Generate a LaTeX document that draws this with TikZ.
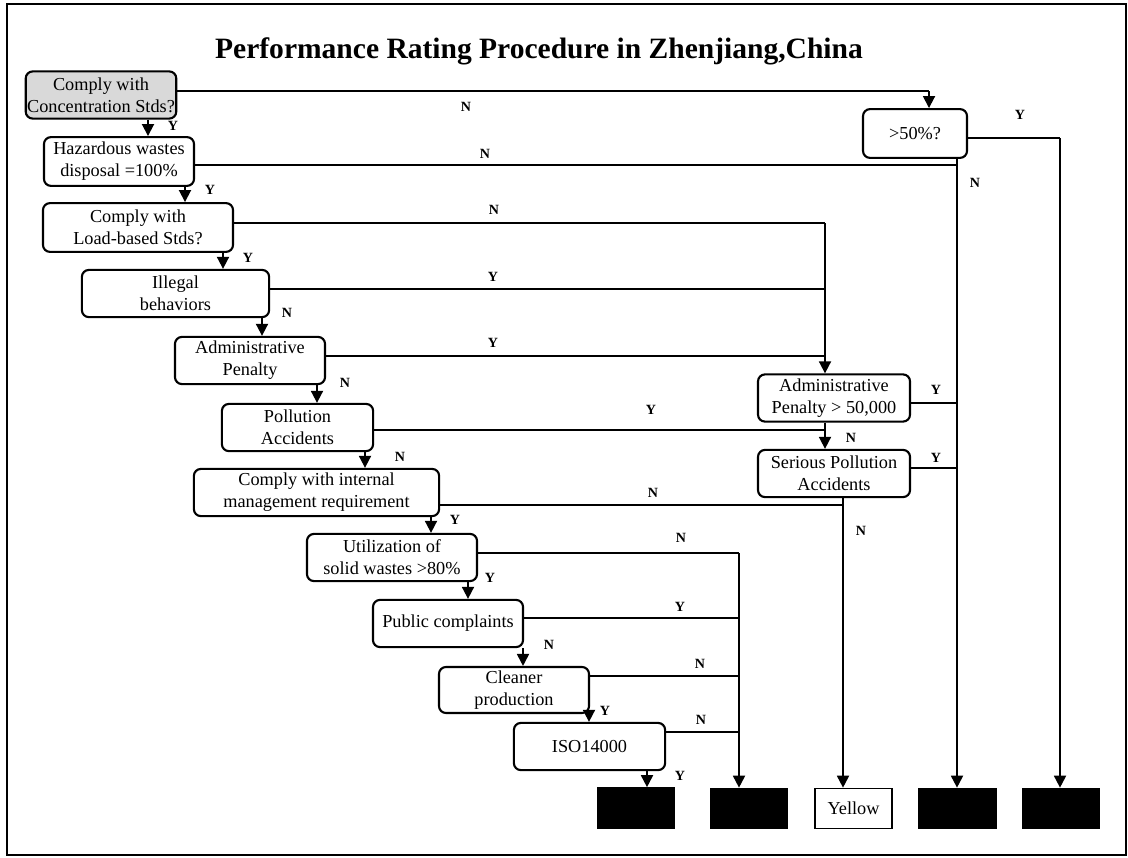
\documentclass[tikz,border=0pt]{standalone}
\usepackage{fontspec}
\setmainfont{Liberation Serif}
\usepackage{tikz}
\usetikzlibrary{arrows.meta}

\begin{document}
\begin{tikzpicture}[x=0.025cm, y=-0.025cm,
    box/.style={draw, line width=1.5pt, rounded corners=5pt, align=center, inner sep=1pt,
        minimum height=1.18cm, font=\fontsize{13}{15.6}\selectfont},
    outbox/.style={draw, line width=1.2pt, minimum width=1.93cm, minimum height=1cm, inner sep=0pt,
        font=\fontsize{13}{15.6}\selectfont},
    lab/.style={font=\bfseries\fontsize{10}{12}\selectfont, inner sep=0pt},
    arr/.style={line width=1.3pt, -{Triangle[length=0.3cm, width=0.3cm]}},
    ln/.style={line width=1.3pt}]
            \useasboundingbox (0,0) rectangle (1128,857);
            \draw[line width=1.3pt] (7,4) rectangle (1126,855);

            % Title
            \node[anchor=base, font=\bfseries\fontsize{21}{25}\selectfont] (title) at (539,58)
                {Performance Rating Procedure in Zhenjiang,China};

            % Nodes
            \node[box, fill=gray!30, minimum width=3.73cm] (conc) at (101,95) {Comply with\\Concentration Stds?};
            \node[box, minimum width=3.75cm, minimum height=1.22cm] (haz) at (119,161.5) {Hazardous wastes\\disposal =100\%};
            \node[box, minimum width=4.75cm, minimum height=1.22cm] (load) at (138,227.5) {Comply with\\Load-based Stds?};
            \node[box, minimum width=4.68cm] (illegal) at (175.5,293.5) {Illegal\\behaviors};
            \node[box, minimum width=3.75cm] (admin) at (250,360.5) {Administrative\\Penalty};
            \node[box, minimum width=3.78cm] (pollu) at (297.5,427.5) {Pollution\\Accidents};
            \node[box, minimum width=6.13cm] (internal) at (316.5,492.5) {Comply with internal\\management requirement};
            \node[box, minimum width=4.25cm] (util) at (392,557.5) {Utilization of\\solid wastes >80\%};
            \node[box, minimum width=3.75cm] (public) at (448,623.5) {Public complaints};
            \node[box, minimum width=3.75cm, minimum height=1.15cm] (cleaner) at (514,690) {Cleaner\\production};
            \node[box, minimum width=3.78cm] (iso) at (589.5,746.5) {ISO14000};
            \node[box, minimum width=2.6cm, minimum height=1.22cm] (fifty) at (915,133.5) {>50\%?};
            \node[box, minimum width=3.8cm] (bigpen) at (834,398) {Administrative\\Penalty > 50,000};
            \node[box, minimum width=3.8cm] (serious) at (834,473.5) {Serious Pollution\\Accidents};

            \node[outbox, fill=black] (out1) at (636,808) {};
            \node[outbox, fill=black] (out2) at (749,808.5) {};
            \node[outbox] (yellow) at (853.5,808.5) {Yellow};
            \node[outbox, fill=black] (out4) at (957.5,808.5) {};
            \node[outbox, fill=black] (out5) at (1061,808.5) {};

            % Junctions
            \coordinate (jfifty) at (929,91);
            \coordinate (jno) at (957,165);
            \coordinate (jyes) at (1060,138);
            \coordinate (jpen) at (825,223);
            \coordinate (jser) at (843,505);
            \coordinate (jgood) at (739,553);

            % Edges down the chain
            \draw[arr] (148,0 |- conc.south) -- (148,0 |- haz.north);
            \draw[arr] (185,0 |- haz.south) -- (185,0 |- load.north);
            \draw[arr] (223,0 |- load.south) -- (223,0 |- illegal.north);
            \draw[arr] (262,0 |- illegal.south) -- (262,0 |- admin.north);
            \draw[arr] (317,0 |- admin.south) -- (317,0 |- pollu.north);
            \draw[arr] (365,0 |- pollu.south) -- (365,0 |- internal.north);
            \draw[arr] (431,0 |- internal.south) -- (431,0 |- util.north);
            \draw[arr] (468,0 |- util.south) -- (468,0 |- public.north);
            \draw[arr] (523,0 |- public.south) -- (523,0 |- cleaner.north);
            \draw[arr] (589,0 |- cleaner.south) -- (589,0 |- iso.north);
            \draw[arr] (647,0 |- iso.south) -- (647,0 |- out1.north);

            % Edges to the right column
            \draw[ln] (conc.east |- jfifty) -- (jfifty);
            \draw[arr] (jfifty) -- (jfifty |- fifty.north);
            \draw[ln] (haz.east |- jno) -- (jno);
            \draw[ln] (fifty.east |- jyes) -- (jyes);
            \draw[arr] (jyes) -- (jyes |- out5.north);
            \draw[arr] (jno |- fifty.south) -- (jno |- out4.north);
            \draw[ln] (load.east |- jpen) -- (jpen);
            \draw[ln] (illegal.east |- 0,289) -- (jpen |- 0,289);
            \draw[ln] (admin.east |- 0,356) -- (jpen |- 0,356);
            \draw[arr] (jpen) -- (jpen |- bigpen.north);
            \draw[ln] (bigpen.east |- 0,403) -- (jno |- 0,403);
            \draw[ln] (pollu.east |- 0,430) -- (jpen |- 0,430);
            \draw[arr] (jpen |- bigpen.south) -- (jpen |- serious.north);
            \draw[ln] (serious.east |- 0,468) -- (jno |- 0,468);
            \draw[ln] (internal.east |- jser) -- (jser);
            \draw[arr] (jser |- serious.south) -- (jser |- yellow.north);
            \draw[ln] (util.east |- jgood) -- (jgood);
            \draw[ln] (public.east |- 0,618) -- (jgood |- 0,618);
            \draw[ln] (cleaner.east |- 0,676) -- (jgood |- 0,676);
            \draw[ln] (iso.east |- 0,732) -- (jgood |- 0,732);
            \draw[arr] (jgood) -- (jgood |- out2.north);

            % Labels
            \node[lab] (l1) at (173,126) {Y};
            \node[lab] (l2) at (210,190) {Y};
            \node[lab] (l3) at (248,258) {Y};
            \node[lab] (l4) at (287,313) {N};
            \node[lab] (l5) at (345,383) {N};
            \node[lab] (l6) at (400,457) {N};
            \node[lab] (l7) at (455,520) {Y};
            \node[lab] (l8) at (490,578) {Y};
            \node[lab] (l9) at (549,645) {N};
            \node[lab] (l10) at (605,711) {Y};
            \node[lab] (l11) at (680,776) {Y};
            \node[lab] (l12) at (466,107) {N};
            \node[lab] (l13) at (485,154) {N};
            \node[lab] (l14) at (494,210) {N};
            \node[lab] (l15) at (493,277) {Y};
            \node[lab] (l16) at (493,343) {Y};
            \node[lab] (l17) at (651,410) {Y};
            \node[lab] (l18) at (653,493) {N};
            \node[lab] (l19) at (681,538) {N};
            \node[lab] (l20) at (680,607) {Y};
            \node[lab] (l21) at (700,664) {N};
            \node[lab] (l22) at (701,720) {N};
            \node[lab] (l23) at (1020,115) {Y};
            \node[lab] (l24) at (975,183) {N};
            \node[lab] (l25) at (936,390) {Y};
            \node[lab] (l26) at (936,458) {Y};
            \node[lab] (l27) at (851,438) {N};
            \node[lab] (l28) at (861,531) {N};
        \end{tikzpicture}
\end{document}
